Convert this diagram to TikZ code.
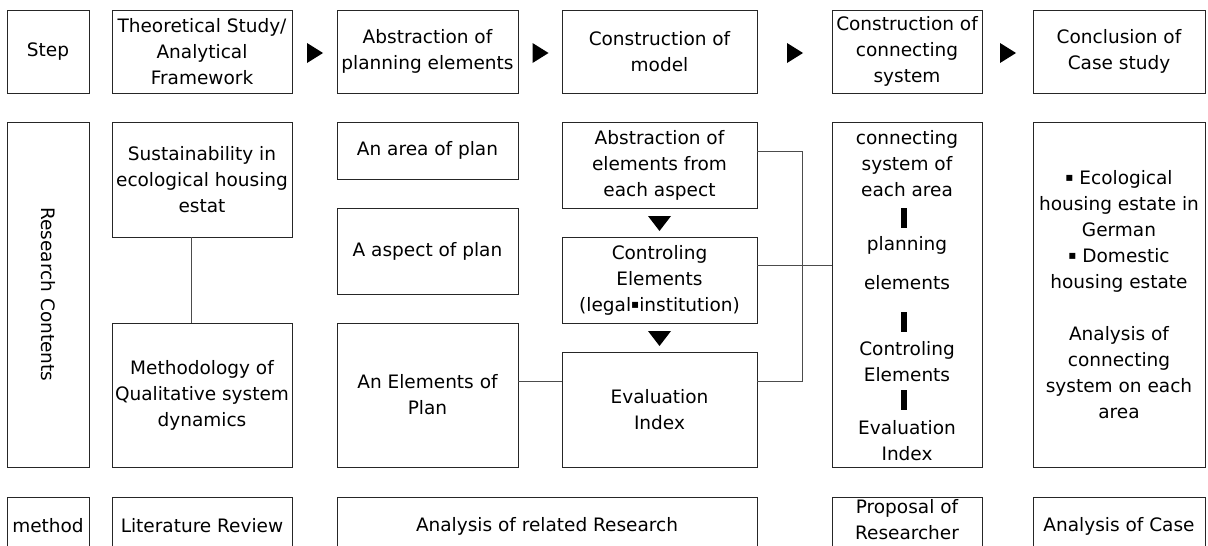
\documentclass[tikz,border=0pt]{standalone}
\usepackage{fontspec}
\setmainfont{DejaVu Sans}
\usetikzlibrary{calc}
\tikzset{
  box/.style={draw=black!85, line width=0.9pt, inner sep=0pt, align=center},
  txt/.style={inner sep=0pt, align=center},
  link/.style={draw=black!70, line width=0.9pt},
  tri/.style={fill=black},
  bar/.style={fill=black, inner sep=0pt, minimum width=6pt, minimum height=20pt},
}
\newcommand\bx[6]{\node[box, minimum width={(#4-#2)*1pt}, minimum height={(#5-#3)*1pt}] (#1) at ({(#2+#4)/2},{(#3+#5)/2}) {#6};}
\newcommand\sq{\raisebox{2.5pt}{\fontsize{12}{26}\selectfont ▪}}
\begin{document}
\begin{tikzpicture}[x=1pt, y=-1pt, every node/.append style={font=\fontsize{18.5}{26}\selectfont}]
\useasboundingbox (0,0) rectangle (1208,546);
\clip (0,0) rectangle (1208,546);
% top row
\bx{step}{7}{10}{89}{93}{Step}
\bx{theo}{112}{10}{292}{93}{Theoretical Study/\\Analytical\\Framework}
\bx{abst}{337}{10}{518}{93}{Abstraction of\\planning elements}
\bx{cmod}{562}{10}{757}{93}{Construction of\\model}
\bx{csys}{832}{10}{982}{93}{Construction of\\connecting\\system}
\bx{concl}{1033}{10}{1205}{93}{Conclusion of\\Case study}
% arrows between steps
\coordinate (m1) at ($(theo.east)!0.5!(abst.west)$);
\coordinate (m2) at ($(abst.east)!0.5!(cmod.west)$);
\coordinate (m3) at ($(cmod.east)!0.5!(csys.west)$);
\coordinate (m4) at ($(csys.east)!0.5!(concl.west)$);
\foreach \m in {m1,m2,m3,m4}{
  \fill[tri] ($(\m)+(-7.5,-8.5)$) -- ($(\m)+(8.5,1.5)$) -- ($(\m)+(-7.5,11.5)$) -- cycle;
}
% middle row
\bx{rc}{7}{122}{89}{467}{}
\node[txt, rotate=-90] (rct) at (rc) {Research Contents};
\bx{sus}{112}{122}{292}{237}{Sustainability in\\ecological housing\\estat}
\bx{meth}{112}{323}{292}{467}{Methodology of\\Qualitative system\\dynamics}
\bx{area}{337}{122}{518}{179}{An area of plan}
\bx{asp}{337}{208}{518}{294}{A aspect of plan}
\bx{elem}{337}{323}{518}{467}{An Elements of\\Plan}
\bx{abse}{562}{122}{757}{208}{Abstraction of\\elements from\\each aspect}
\bx{ctrl}{562}{237}{757}{323}{Controling\\Elements\\(legal\sq institution)}
\bx{eval}{562}{352}{757}{467}{Evaluation\\Index}
\bx{conn}{832}{122}{982}{467}{}
\bx{case}{1033}{122}{1205}{467}{\sq\ Ecological\\housing estate in\\German\\\sq\ Domestic\\housing estate\\[26pt]Analysis of\\connecting\\system on each\\area}
% down triangles
\coordinate (d1) at ($(abse.south)!0.5!(ctrl.north)$);
\coordinate (d2) at ($(ctrl.south)!0.5!(eval.north)$);
\foreach \d in {d1,d2}{
  \fill[tri] ($(\d)+(-11.5,-6.5)$) -- ($(\d)+(11.5,-6.5)$) -- ($(\d)+(0,8.5)$) -- cycle;
}
% connecting system contents
\node[txt] (c1) at (907,164) {connecting\\system of\\each area};
\node[bar] (b1) at (904,217.5) {};
\node[txt] (c2) at (907,245) {planning};
\node[txt] (c3) at (907,283) {elements};
\node[bar] (b2) at (904,321.5) {};
\node[txt] (c4) at (907,361.5) {Controling\\Elements};
\node[bar] (b3) at (904,400) {};
\node[txt] (c5) at (907,440.5) {Evaluation\\Index};
% connectors
\draw[link] ([xshift=-11pt]sus.south) -- ([xshift=-11pt]meth.north);
\draw[link] ([yshift=14pt]elem.east) -- ([yshift=14pt]elem.east -| eval.west);
\coordinate (j1) at (802,151);
\coordinate (j2) at (802,381);
\draw[link] (abse.east |- j1) -- (j1) -- (j2) -- (eval.east |- j2);
\draw[link] ([yshift=15pt]ctrl.east) -- ([yshift=15pt]ctrl.east -| conn.west);
% bottom row
\bx{mth}{7}{497}{89}{580}{}
\bx{lit}{112}{497}{292}{580}{}
\bx{rel}{337}{497}{757}{580}{}
\bx{prop}{832}{497}{982}{580}{}
\bx{anc}{1033}{497}{1205}{580}{}
\node[txt] (mtht) at (48,526) {method};
\node[txt] (litt) at (202,526) {Literature Review};
\node[txt] (relt) at (547,526) {Analysis of related Research};
\node[txt] (propt) at (907,520) {Proposal of\\Researcher};
\node[txt] (anct) at (1119,526) {Analysis of Case};
\end{tikzpicture}
\end{document}
